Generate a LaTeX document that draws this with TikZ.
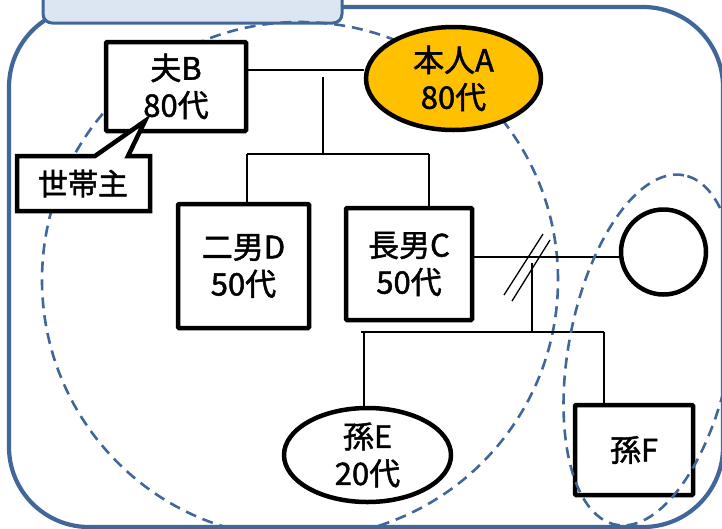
\documentclass[tikz,border=0pt]{standalone}
\usepackage{fontspec}
\setmainfont{Noto Sans CJK JP}
\newfontfamily\jpmed{Noto Sans CJK JP}[FakeBold=1.5]
\usetikzlibrary{shapes.geometric}
\definecolor{frameblue}{HTML}{41669A}
\definecolor{tabfill}{HTML}{DCE6F2}
\definecolor{aorange}{HTML}{FFC000}
\begin{document}
\begin{tikzpicture}[x=1pt,y=-1pt,
  person/.style={draw=black, line width=4.5pt, fill=white, align=center,
    font=\jpmed\fontsize{31}{37}\selectfont, inner sep=0pt},
  pbox/.style={person, rectangle, rounded corners=1pt},
  pell/.style={person, ellipse},
  kin/.style={line width=1.3pt},
  grp/.style={draw=frameblue, line width=2.6pt, dash pattern=on 11pt off 7pt},
]
\useasboundingbox (0,0) rectangle (722,528);
\clip (0,0) rectangle (722,528);
% outer frame and tab
\draw[frameblue, line width=4.2pt, rounded corners=80pt] (9,7) rectangle (723,527);
\draw[frameblue, fill=tabfill, line width=3pt, rounded corners=9pt] (43,-40) rectangle (342,23);
% large household group
\draw[grp] (300,280) circle [radius=258pt];
% persons
\node[pbox, minimum width=140pt, minimum height=89pt] (B) at (176,86.5) {夫B\\80代};
\node[pell, fill=aorange, minimum width=175pt, minimum height=103pt] (A) at (453.5,78.5) {本人A\\80代};
\node[pbox, minimum width=131pt, minimum height=124pt] (D) at (243.5,266) {二男D\\50代};
\node[pbox, minimum width=126pt, minimum height=112pt] (C) at (409,264) {長男C\\50代};
\node[person, circle, minimum size=85pt] (W) at (663.5,252) {};
\node[pell, minimum width=167pt, minimum height=94pt] (E) at (367.5,455) {孫E\\20代};
\node[pbox, minimum width=118pt, minimum height=90pt] (F) at (634,450) {孫F};
% callout
\draw[line width=4.5pt, fill=white, line join=miter]
  (17,156) -- (95,156) -- (145,121) -- (128,156) -- (150,156) -- (150,211) -- (17,211) -- cycle;
\node[font=\jpmed\fontsize{30}{36}\selectfont, inner sep=0pt] (H) at (83,183.5) {世帯主};
% helper coordinates
\coordinate (y70) at (0,70);
\coordinate (m1) at (323,77);
\coordinate (m2) at (323,154);
\coordinate (s1) at (247,154);
\coordinate (s2) at (429,154);
\coordinate (y257) at (0,257);
\coordinate (d1a) at (504,295);
\coordinate (d1b) at (543,234);
\coordinate (d2a) at (512,301);
\coordinate (d2b) at (550,240);
\coordinate (c1) at (532,263);
\coordinate (c2) at (532,332);
\coordinate (g1) at (361,332);
\coordinate (g2) at (604,332);
\coordinate (gE) at (364,332);
% connectors
\draw[kin] (B.east |- y70) -- (A.west |- y70);
\draw[kin] (m1) -- (m2);
\draw[kin] (s1) -- (s2);
\draw[kin] (s1) -- (s1 |- D.north);
\draw[kin] (s2) -- (s2 |- C.north);
\draw[kin] (C.east |- y257) -- (W.west |- y257);
\draw[kin] (d1a) -- (d1b);
\draw[kin] (d2a) -- (d2b);
\draw[kin] (c1) -- (c2);
\draw[kin] (g1) -- (g2);
\draw[kin] (gE) -- (gE |- E.north);
\draw[kin] (g2) -- (g2 |- F.north);
% small group (ex-wife side)
\draw[grp, rotate around={79:(650,350)}] (650,350) ellipse [x radius=178pt, y radius=81pt];
\end{tikzpicture}
\end{document}
